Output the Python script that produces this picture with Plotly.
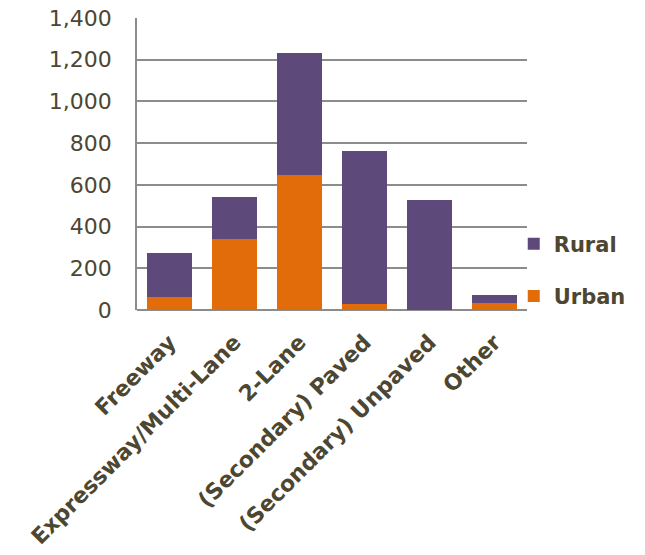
import plotly.graph_objects as go

# Road categories and counts by area type
categories = ["Freeway", "Expressway/Multi-Lane", "2-Lane",
              "(Secondary) Paved", "(Secondary) Unpaved", "Other"]
urban = [60, 342, 649, 30, 2, 34]
rural = [213, 200, 582, 731, 526, 39]
y_ticks = [0, 200, 400, 600, 800, 1000, 1200, 1400]
y_tick_labels = ["0", "200", "400", "600", "800", "1,000", "1,200", "1,400"]

TEXT = "#4d4631"
FONT = "DejaVu Sans, sans-serif"

fig = go.Figure()
fig.add_trace(go.Bar(x=categories, y=urban, name="Urban",
                     marker=dict(color="#e36c0a", line=dict(width=0)),
                     legendgroup="u", legendrank=2))
fig.add_trace(go.Bar(x=categories, y=rural, name="Rural",
                     marker=dict(color="#5e4a7a", line=dict(width=0)),
                     legendgroup="r", legendrank=1))

fig.update_layout(
    width=645, height=555,
    barmode="stack", bargap=0.32,
    margin=dict(l=137, r=118, t=18, b=245, autoexpand=False),
    paper_bgcolor="white", plot_bgcolor="white",
    font=dict(family=FONT, color=TEXT, size=20),
    legend=dict(x=0.966, xanchor="left", y=0.137, yanchor="middle",
                traceorder="grouped", tracegroupgap=22,
                font=dict(size=21, color=TEXT, family=FONT, weight="bold"),
                bgcolor="rgba(0,0,0,0)"),
    xaxis=dict(tickangle=-45, showgrid=False, showline=False, ticks="",
               automargin=False, ticklabelstandoff=14,
               tickfont=dict(size=22, color=TEXT, family=FONT, weight="bold")),
    yaxis=dict(range=[0, 1400], tickvals=y_ticks, ticktext=y_tick_labels,
               showgrid=True, gridcolor="#8c8c8c", gridwidth=1.5,
               showline=True, linecolor="#8c8c8c", linewidth=1.5,
               zeroline=True, zerolinecolor="#8c8c8c", zerolinewidth=1.5,
               ticks="", ticklabelstandoff=19, automargin=False,
               tickfont=dict(size=22, color=TEXT, family=FONT)),
)

fig.write_html("out.html")
